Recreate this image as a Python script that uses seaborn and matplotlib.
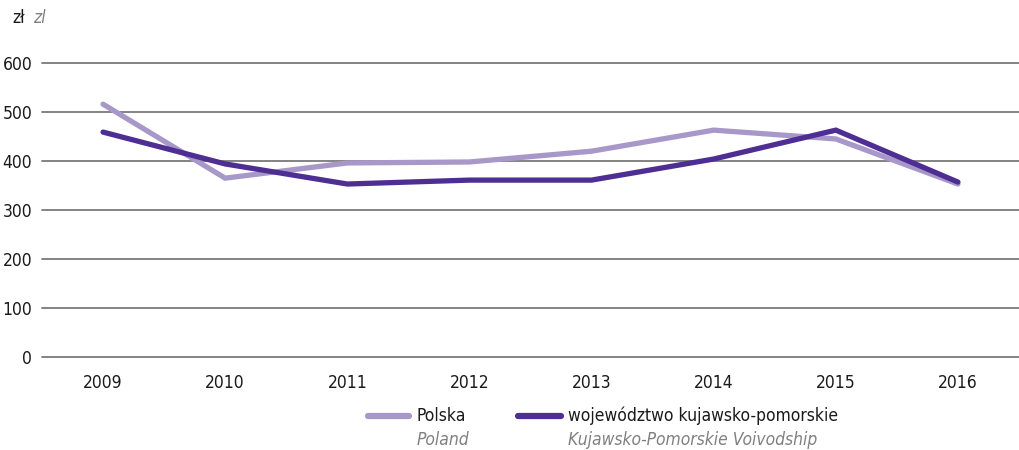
import matplotlib
matplotlib.use("Agg")
import matplotlib.pyplot as plt
from matplotlib.lines import Line2D
from matplotlib import font_manager
import seaborn as sns
import pandas as pd

years = ["2009", "2010", "2011", "2012", "2013", "2014", "2015", "2016"]
polska = [516, 365, 396, 398, 420, 463, 445, 353]
kujawsko = [459, 394, 353, 361, 361, 404, 463, 357]
series_pl = ["Polska", "województwo kujawsko-pomorskie"]
series_en = ["Poland", "Kujawsko-Pomorskie Voivodship"]
yticks = [0, 100, 200, 300, 400, 500, 600]

sns.set_theme(style="white")
names = {f.name for f in font_manager.fontManager.ttflist}
fam = [n for n in ["Liberation Sans Narrow", "DejaVu Sans"] if n in names]
plt.rcParams['font.family'] = fam
plt.rcParams['font.stretch'] = 'condensed'

colors = ["#A898C9", "#4E2E92"]

df = pd.DataFrame({
    "year": years * 2,
    "value": polska + kujawsko,
    "series": [series_pl[0]] * len(years) + [series_pl[1]] * len(years),
})
df["x"] = df["year"].map({y: i for i, y in enumerate(years)})

fig = plt.figure(figsize=(10.19, 4.5), dpi=100)
ax = fig.add_axes([0.0412, 0.2067, 0.9588, 0.6533])

sns.lineplot(data=df, x="x", y="value", hue="series", palette=colors,
             linewidth=3.8, ax=ax, legend=False, sort=False,
             solid_capstyle="round", solid_joinstyle="miter")

ax.set_xlim(-0.5, len(years) - 0.5)
ax.set_ylim(0, 600)
ax.set_yticks(yticks)
ax.set_yticklabels([str(t) for t in yticks])
ax.set_xticks(range(len(years)))
ax.set_xticklabels(years)
ax.set_xlabel("")
ax.set_ylabel("")
for s in ax.spines.values():
    s.set_visible(False)
ax.grid(axis="y", color="#7a7a7a", linewidth=1.3)
for gl in ax.get_ygridlines():
    gl.set_clip_on(False)
ax.set_axisbelow(True)
ax.tick_params(axis="both", length=0, labelsize=12.5, colors="#1a1a1a")
ax.tick_params(axis="y", pad=7)
ax.tick_params(axis="x", pad=12)

# unit label
fig.text(12/1019, 1 - 18/450, "zł", fontsize=12.5, color="#1a1a1a", va="center", ha="left")
fig.text(33/1019, 1 - 18/450, "zl", fontsize=12.5, color="#808080", style="italic", va="center", ha="left")

# legend
W, H = 1019, 450
leg = [(368, 409, 417), (518, 561, 568)]
for (x0, x1, tx), c, pl, en in zip(leg, colors, series_pl, series_en):
    fig.add_artist(Line2D([x0 / W, x1 / W], [1 - 416 / H, 1 - 416 / H], color=c,
                          linewidth=4.5, solid_capstyle="round", transform=fig.transFigure))
    fig.text(tx / W, 1 - 416 / H, pl, fontsize=12.5, color="#1a1a1a", va="center", ha="left")
    fig.text(tx / W, 1 - 440 / H, en, fontsize=12.5, color="#808080", style="italic",
             va="center", ha="left")

fig.savefig("out.png", dpi=100)
